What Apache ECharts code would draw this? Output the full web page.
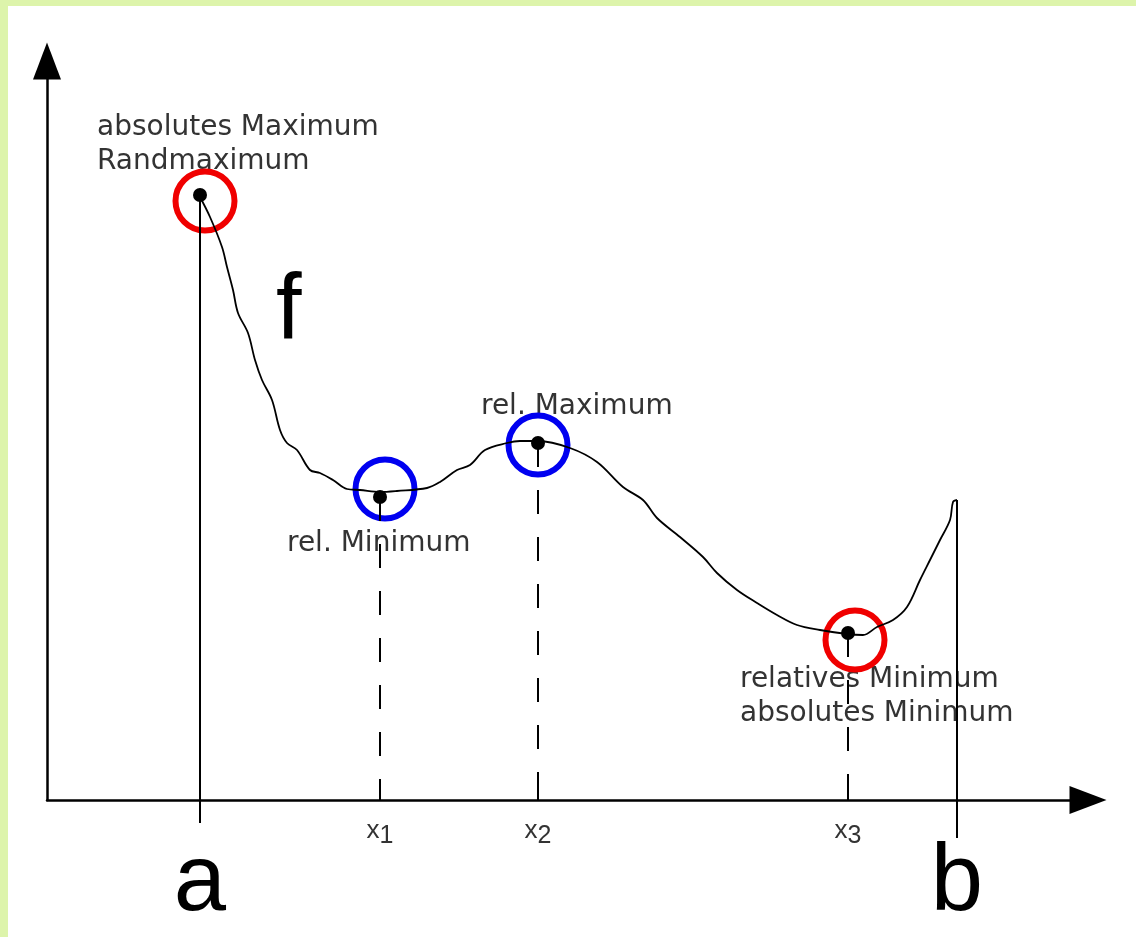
<!DOCTYPE html>
<html>
<head>
<meta charset="utf-8">
<script src="https://cdn.jsdelivr.net/npm/echarts@6/dist/echarts.min.js"></script>
<style>
  html, body { margin: 0; padding: 0; background: #fff; }
  #frame { position: absolute; left: 0; top: 0; width: 1136px; height: 937px; box-sizing: border-box;
           border-top: 6px solid #ddf4ab; border-left: 8px solid #ddf4ab; }
  #chart { position: absolute; left: 0; top: 0; width: 1136px; height: 937px; }
</style>
</head>
<body>
<div id="frame"></div>
<div id="chart"></div>
<script>
// curve f
const curveX = [1.53, 1.63, 1.75, 1.80, 1.86, 1.91, 2.01, 2.08, 2.15, 2.25, 2.33, 2.40, 2.50, 2.63, 2.73, 2.86,
  3.00, 3.13, 3.33, 3.50, 3.80, 3.93, 4.10, 4.23, 4.38, 4.60, 4.73, 4.91, 5.23, 5.50, 5.76, 5.96, 6.10, 6.33,
  6.56, 6.70, 6.90, 7.10, 7.30, 7.50, 7.73, 8.00, 8.16, 8.30, 8.46, 8.60, 8.73, 8.83, 8.93, 9.03, 9.06, 9.10]
const curveY = [6.03, 5.83, 5.53, 5.33, 5.10, 4.87, 4.67, 4.40, 4.20, 4.00, 3.70, 3.57, 3.50, 3.30, 3.27, 3.20,
  3.11, 3.10, 3.08, 3.09, 3.12, 3.18, 3.30, 3.35, 3.50, 3.57, 3.59, 3.59, 3.52, 3.38, 3.13, 3.00, 2.82, 2.63,
  2.43, 2.27, 2.10, 1.97, 1.85, 1.75, 1.70, 1.66, 1.65, 1.73, 1.80, 1.93, 2.20, 2.40, 2.60, 2.80, 2.98, 3.00]

// Randmaximum, rel. Minimum, rel. Maximum, absolutes Minimum
const extremaX = [1.53, 3.33, 4.91, 8.01]
const extremaY = [6.05, 3.03, 3.57, 1.67]
const circleX = [1.58, 3.38, 4.91, 8.08]
const circleY = [5.99, 3.11, 3.55, 1.60]
const circleKind = ['abs', 'rel', 'rel', 'abs']

const pointNames = ['x1', 'x2', 'x3']
const pointPos = [3.33, 4.91, 8.01]
const boundNames = ['a', 'b']
const boundPos = [1.53, 9.10]

const xMax = 10.41
const yMax = 7.39

const chart = echarts.init(document.getElementById('chart'))

const black = '#000'
const text = '#333'

const dropLines = [1, 2, 3].map(i => ({
  type: 'line',
  data: [[extremaX[i], extremaY[i]], [extremaX[i], 0]],
  showSymbol: false,
  silent: true,
  lineStyle: {color: black, width: 2, type: [24, 23]},
}))

const edgeLine = (x, yTop, yBottom) => ({
  type: 'line',
  data: [[x, yTop], [x, yBottom]],
  showSymbol: false,
  silent: true,
  clip: false,
  lineStyle: {color: black, width: 2},
})

const pickName = (names, pos) => (v) => {
  const i = pos.findIndex(p => Math.abs(p - v) < 1e-6)
  return names[i] || ''
}
const pointName = pickName(pointNames, pointPos)
const boundName = pickName(boundNames, boundPos)

chart.setOption({
  animation: false,
  grid: {left: 47, right: 48, top: 61, bottom: 137, outerBoundsMode: 'none'},
  xAxis: [
    {
      type: 'value',
      min: 0,
      max: xMax,
      splitLine: {show: false},
      axisLine: {
        symbol: ['none', 'triangle'],
        symbolSize: [28, 37],
        lineStyle: {color: black, width: 2.5},
      },
      axisTick: {
        customValues: pointPos,
        inside: true,
        length: 17,
        lineStyle: {color: black, width: 2},
      },
      axisLabel: {
        customValues: pointPos,
        margin: 18,
        formatter: (v) => {
          const name = pointName(v)
          return '{x|' + name.charAt(0) + '}{sub|' + name.slice(1) + '}'
        },
        rich: {
          x: {fontFamily: 'Liberation Sans', fontSize: 26, lineHeight: 26, color: text, verticalAlign: 'top'},
          sub: {fontFamily: 'Liberation Sans', fontSize: 25, lineHeight: 36, color: text},
        },
      },
    },
    {
      type: 'value',
      min: 0,
      max: xMax,
      position: 'bottom',
      splitLine: {show: false},
      axisLine: {show: false},
      axisTick: {show: false},
      axisLabel: {
        customValues: boundPos,
        margin: 37,
        formatter: boundName,
        fontFamily: 'Liberation Sans',
        fontSize: 94,
        lineHeight: 94,
        color: black,
      },
    },
  ],
  yAxis: {
    type: 'value',
    min: 0,
    max: yMax,
    splitLine: {show: false},
    axisLabel: {show: false},
    axisTick: {show: false},
    axisLine: {
      show: true,
      symbol: ['none', 'triangle'],
      symbolSize: [28, 37],
      lineStyle: {color: black, width: 2.5},
    },
  },
  graphic: [
    {type: 'text', left: 97, top: 111, style: {text: 'absolutes Maximum\nRandmaximum', font: '28px "DejaVu Sans"', lineHeight: 34, fill: text}},
    {type: 'text', left: 481, top: 390, style: {text: 'rel. Maximum', font: '28px "DejaVu Sans"', lineHeight: 34, fill: text}},
    {type: 'text', left: 287, top: 527, style: {text: 'rel. Minimum', font: '28px "DejaVu Sans"', lineHeight: 34, fill: text}},
    {type: 'text', left: 740, top: 663, style: {text: 'relatives Minimum\nabsolutes Minimum', font: '28px "DejaVu Sans"', lineHeight: 34, fill: text}},
    {type: 'text', left: 276, top: 267, style: {text: 'f', font: '92px "Liberation Sans"', lineHeight: 92, fill: black}},
  ],
  series: [
    ...dropLines,
    edgeLine(boundPos[0], extremaY[0], -0.23),
    edgeLine(boundPos[1], curveY[curveY.length - 1], -0.38),
    {
      type: 'line',
      data: curveX.map((x, i) => [x, curveY[i]]),
      showSymbol: false,
      silent: true,
      smooth: 0.35,
      lineStyle: {color: black, width: 1.8},
    },
    {
      type: 'scatter',
      data: extremaX.map((x, i) => [x, extremaY[i]]),
      symbol: 'circle',
      symbolSize: 14,
      silent: true,
      itemStyle: {color: black, opacity: 1},
    },
    {
      type: 'scatter',
      data: circleX.map((x, i) => ({
        value: [x, circleY[i]],
        itemStyle: {borderColor: circleKind[i] === 'abs' ? '#f00000' : '#0000f0'},
      })),
      symbol: 'circle',
      symbolSize: 59,
      silent: true,
      itemStyle: {color: 'rgba(0,0,0,0)', borderWidth: 6, opacity: 1},
    },
  ],
})
</script>
</body>
</html>
